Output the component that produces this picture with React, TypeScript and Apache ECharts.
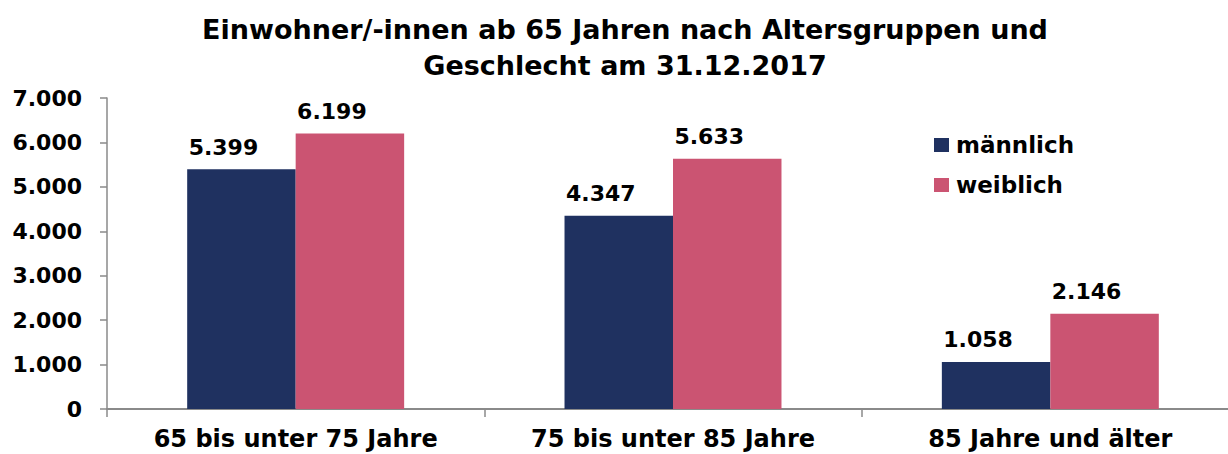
import React, { useEffect, useRef } from "react";
import * as echarts from "echarts";

const title = "Einwohner/-innen ab 65 Jahren nach Altersgruppen und\nGeschlecht am 31.12.2017";
const categories = ["65 bis unter 75 Jahre", "75 bis unter 85 Jahre", "85 Jahre und älter"];
const maennlich = [5399, 4347, 1058];
const weiblich = [6199, 5633, 2146];
const seriesNames = ["männlich", "weiblich"];

const FONT = "'DejaVu Sans', sans-serif";
const fmt = (v: number) => String(Math.round(v)).replace(/\B(?=(\d{3})+(?!\d))/g, ".");

export default function App() {
  const ref = useRef<HTMLDivElement>(null);
  useEffect(() => {
    if (!ref.current) return;
    const chart = echarts.init(ref.current, undefined, { renderer: "svg" });
    const labelCfg = {
      show: true,
      position: "top" as const,
      distance: 11,
      offset: [-18, 0],
      color: "#000",
      fontFamily: FONT,
      fontWeight: "bold" as const,
      fontSize: 22,
      formatter: (p: any) => fmt(p.value),
    };
    chart.setOption({
      animation: false,
      backgroundColor: "#fff",
      title: {
        text: title,
        left: 620,
        top: 6,
        textAlign: "center",
        textStyle: {
          fontFamily: FONT,
          fontWeight: "bold",
          fontSize: 27,
          lineHeight: 36,
          color: "#000",
        },
      },
      legend: {
        orient: "vertical",
        left: 934,
        top: 133,
        padding: 0,
        itemWidth: 15,
        itemHeight: 14,
        itemGap: 16,
        icon: "rect",
        data: seriesNames,
        textStyle: {
          fontFamily: FONT,
          fontWeight: "bold",
          fontSize: 23,
          lineHeight: 24,
          color: "#000",
          padding: [0, 0, 0, 2],
        },
      },
      grid: { left: 107, top: 98, width: 1132, height: 312, containLabel: false },
      xAxis: {
        type: "category",
        data: categories,
        axisLine: { lineStyle: { color: "#8a8a8a", width: 2 } },
        axisTick: { show: true, length: 8, lineStyle: { color: "#8a8a8a", width: 1.5 } },
        axisLabel: {
          interval: 0,
          margin: 15,
          color: "#000",
          fontFamily: FONT,
          fontWeight: "bold",
          fontSize: 24,
          lineHeight: 30,
        },
      },
      yAxis: {
        type: "value",
        min: 0,
        max: 7000,
        interval: 1000,
        splitLine: { show: false },
        axisLine: { show: true, lineStyle: { color: "#8a8a8a", width: 1.5 } },
        axisTick: { show: true, length: 7, lineStyle: { color: "#8a8a8a", width: 1.5 } },
        axisLabel: {
          margin: 25,
          color: "#000",
          fontFamily: FONT,
          fontWeight: "bold",
          fontSize: 22,
          formatter: (v: number) => fmt(v),
        },
      },
      series: [
        {
          name: seriesNames[0],
          type: "bar",
          data: maennlich,
          barGap: "0%",
          barCategoryGap: "42.5%",
          itemStyle: { color: "#1F3160" },
          label: labelCfg,
        },
        {
          name: seriesNames[1],
          type: "bar",
          data: weiblich,
          barGap: "0%",
          barCategoryGap: "42.5%",
          itemStyle: { color: "#CB5472" },
          label: labelCfg,
        },
      ],
    });
    return () => chart.dispose();
  }, []);
  return (
    <div style={{ position: "absolute", left: 0, top: 0, width: 1228, height: 454, overflow: "hidden" }}>
      <div ref={ref} style={{ width: 1260, height: 454 }} />
    </div>
  );
}
